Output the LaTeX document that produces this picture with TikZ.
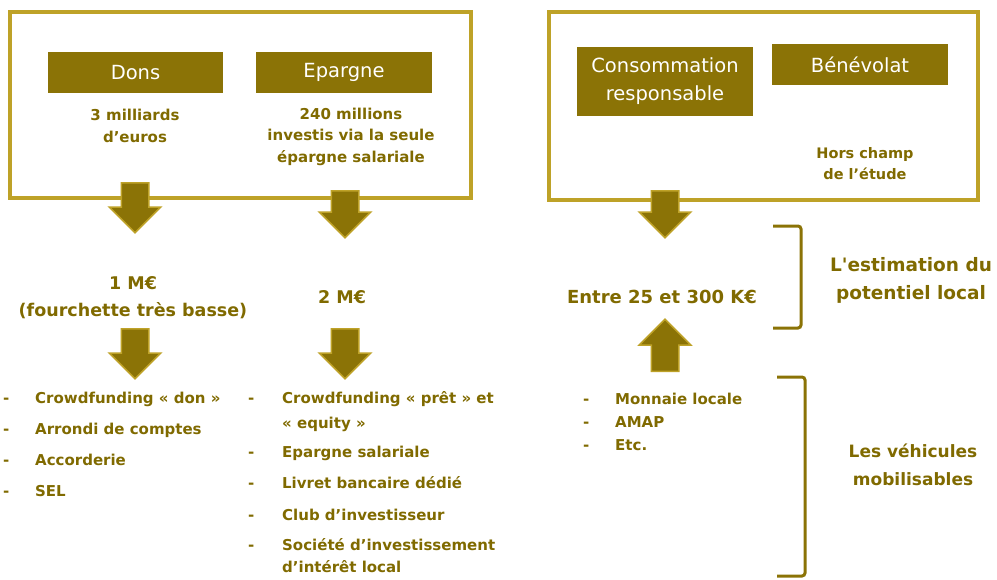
\documentclass[tikz,border=0pt]{standalone}
\usepackage{fontspec}
\setmainfont{DejaVu Sans}
\definecolor{olivebox}{RGB}{139, 115, 6}
\definecolor{goldline}{RGB}{190, 162, 40}
\definecolor{olivetext}{RGB}{128, 106, 0}
\usepackage{tikz}
\usetikzlibrary{shapes.arrows}

\begin{document}
\begin{tikzpicture}[x=1pt, y=-1pt,
  outerframe/.style={draw=goldline, line width=4pt, inner sep=0pt},
  catbox/.style={fill=olivebox, text=white, align=center, inner sep=0pt, font=\fontsize{19.5}{28}\selectfont},
  figtxt/.style={text=olivetext, align=center, inner sep=0pt, font=\bfseries\fontsize{15}{21.5}\selectfont},
  listtxt/.style={text=olivetext, inner sep=0pt, anchor=base west, font=\bfseries\fontsize{15}{22}\selectfont},
  fatarrow/.style={single arrow, draw=goldline, fill=olivebox, line width=1.5pt, inner xsep=0pt, inner ysep=13pt,
    minimum height=50pt, single arrow head extend=12pt, anchor=tail},
  bracket/.style={draw=olivebox, line width=3pt, rounded corners=3pt}]
  \useasboundingbox (0,0) rectangle (997,579);

  % Frames
  \node[outerframe, minimum width=461pt, minimum height=186pt] (leftframe) at (240.5,105) {};
  \node[outerframe, minimum width=429pt, minimum height=188pt] (rightframe) at (763.5,106) {};

  % Categories
  \node[catbox, minimum width=175pt, minimum height=41pt] (dons) at (135.5,72.5) {Dons};
  \node[catbox, minimum width=176pt, minimum height=41pt] (epargne) at (344,72.5) {Epargne};
  \node[catbox, minimum width=176pt, minimum height=69pt] (conso) at (665,81.5) {Consommation\\responsable};
  \node[catbox, minimum width=176pt, minimum height=41pt] (benevolat) at (860,64.5) {Bénévolat};

  \node[figtxt] (donsfig) at (135,126) {3 milliards\\d’euros};
  \node[figtxt] (epargnefig) at (351,136.5) {240 millions\\investis via la seule\\épargne salariale};
  \node[figtxt, font=\bfseries\fontsize{14.5}{21}\selectfont] (hors) at (865,163.5) {Hors champ\\de l’étude};

  % Local potential
  \node[figtxt, font=\bfseries\fontsize{17.5}{27}\selectfont] (donspot) at (133,297.5) {1 M€\\(fourchette très basse)};
  \node[figtxt, font=\bfseries\fontsize{17.5}{27}\selectfont] (epargnepot) at (342,297) {2 M€};
  \node[figtxt, font=\bfseries\fontsize{18}{27}\selectfont] (consopot) at (662,297) {Entre 25 et 300 K€};

  % Arrows
  \node[fatarrow, rotate=-90] (arr1) at (135,182) {};
  \node[fatarrow, rotate=-90, minimum height=47pt] (arr2) at (345,190) {};
  \node[fatarrow, rotate=-90, minimum height=47pt] (arr3) at (665,190) {};
  \node[fatarrow, rotate=-90] (arr4) at (135,328) {};
  \node[fatarrow, rotate=-90] (arr5) at (345,328) {};
  \node[fatarrow, rotate=90, minimum height=52pt] (arr6) at (665,372) {};

  % Vehicles
  \node[listtxt] (donslist) at (3,403.5) {\begin{tabular}[t]{@{}p{32pt}@{}l@{}}
    - & Crowdfunding « don » \\[9pt]
    - & Arrondi de comptes \\[9pt]
    - & Accorderie \\[9pt]
    - & SEL
  \end{tabular}};
  \node[listtxt] (epargnelist) at (248,403.5) {\begin{tabular}[t]{@{}p{34pt}@{}l@{}}
    - & Crowdfunding « prêt » et \\[3pt]
      & « equity » \\[7pt]
    - & Epargne salariale \\[9pt]
    - & Livret bancaire dédié \\[10pt]
    - & Club d’investisseur \\[8pt]
    - & Société d’investissement \\
      & d’intérêt local
  \end{tabular}};
  \node[listtxt, font=\bfseries\fontsize{15}{23}\selectfont] (consolist) at (583,404.5) {\begin{tabular}[t]{@{}p{32pt}@{}l@{}}
    - & Monnaie locale \\
    - & AMAP \\
    - & Etc.
  \end{tabular}};

  % Brackets
  \draw[bracket] (773,226) -- (801,226) -- (801,328) -- (773,328);
  \draw[bracket] (777,377) -- (805,377) -- (805,576) -- (777,576);
  \node[figtxt, font=\bfseries\fontsize{18.5}{28}\selectfont] (estim) at (911,280) {L\textquotesingle estimation du\\potentiel local};
  \node[figtxt, font=\bfseries\fontsize{17}{28}\selectfont] (vehic) at (913,465) {Les véhicules\\mobilisables};
\end{tikzpicture}
\end{document}
